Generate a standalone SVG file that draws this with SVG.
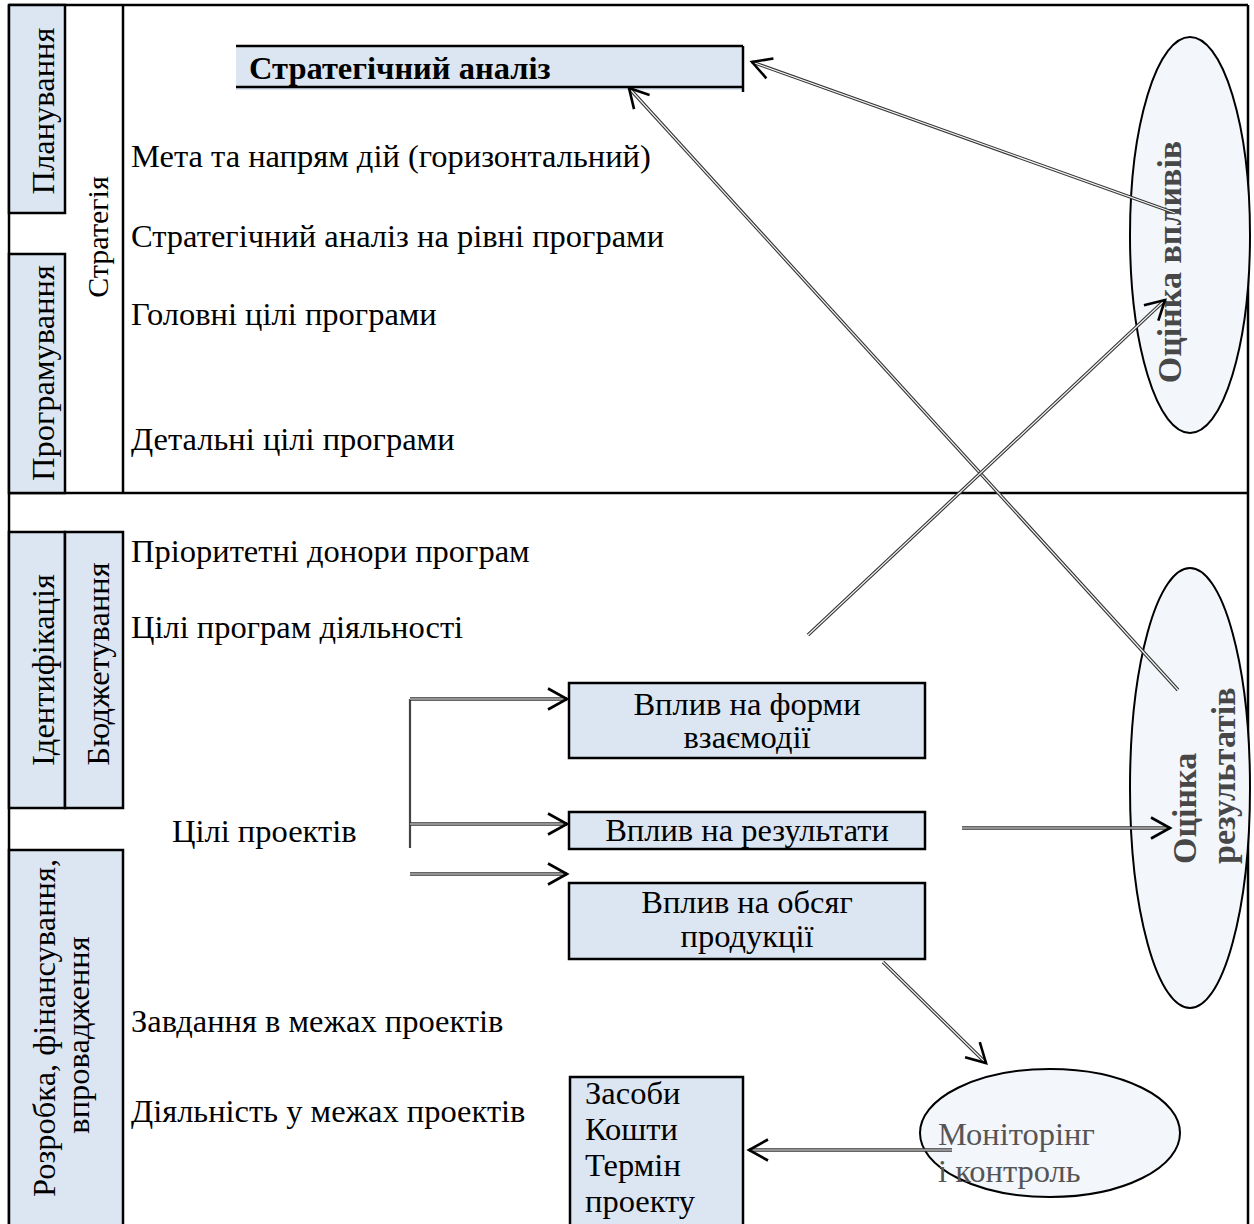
<svg xmlns="http://www.w3.org/2000/svg" width="1254" height="1224" viewBox="0 0 1254 1224">
<style>
  .t { font-family: "Liberation Serif", "Times New Roman", serif; font-size: 32.5px; fill: #000; }
  .b { font-weight: bold; }
  .e { font-size: 34px; font-weight: bold; fill: #474747; }
  .box { fill: #dce6f2; stroke: #000; stroke-width: 2.5; }
  .ell { fill: #f3f6fb; stroke: #000; stroke-width: 2; }
  .frame { stroke: #000; stroke-width: 2.5; fill: none; }
  .lo { fill: none; stroke: #333; stroke-width: 3.4; }
  .li { fill: none; stroke: #f4f4f4; stroke-width: 1.2; }
  .mon { fill: #555; }
</style>
<defs>
  <marker id="ah" markerUnits="userSpaceOnUse" markerWidth="30" markerHeight="30" viewBox="-25 -15 30 30" refX="0" refY="0" orient="auto" overflow="visible">
    <path d="M-19,-10.5 L0,0 L-19,10.5" fill="none" stroke="#000" stroke-width="2.6"/>
  </marker>
</defs>
<rect width="1254" height="1224" fill="#fff"/>

<g id="frame">
  <line class="frame" x1="9" y1="5" x2="1248" y2="5"/>
  <line class="frame" x1="9" y1="5" x2="9" y2="1224"/>
  <line class="frame" x1="1248" y1="5" x2="1248" y2="1224"/>
  <line class="frame" x1="9" y1="493" x2="1248" y2="493"/>
  <line class="frame" x1="123" y1="5" x2="123" y2="493"/>
</g>

<g id="planuvannya">
  <rect class="box" x="9" y="5" width="56" height="208"/>
  <text class="t" transform="translate(54,111) rotate(-90)" text-anchor="middle">Планування</text>
</g>
<g id="prohramuvannya">
  <rect class="box" x="9" y="254" width="56" height="239"/>
  <text class="t" transform="translate(54,373) rotate(-90)" text-anchor="middle">Програмування</text>
</g>
<g id="stratehiya">
  <text class="t" style="font-size:30px" transform="translate(108,237) rotate(-90)" text-anchor="middle">Стратегія</text>
</g>
<g id="identyfikatsiya">
  <rect class="box" x="9" y="532" width="56" height="276"/>
  <text class="t" transform="translate(54,670) rotate(-90)" text-anchor="middle">Ідентифікація</text>
</g>
<g id="byudzhetuvannya">
  <rect class="box" x="65" y="532" width="58" height="276"/>
  <text class="t" transform="translate(109,664) rotate(-90)" text-anchor="middle">Бюджетування</text>
</g>
<g id="rozrobka">
  <rect class="box" x="9" y="850" width="114" height="380"/>
  <text class="t" transform="translate(55,1028) rotate(-90)" text-anchor="middle">Розробка, фінансування,</text>
  <text class="t" transform="translate(89,1035) rotate(-90)" text-anchor="middle">впровадження</text>
</g>

<g id="strat-analiz">
  <rect x="236" y="46" width="507" height="44" fill="#dce6f2"/>
  <line class="frame" x1="236" y1="46" x2="743" y2="46"/>
  <line class="frame" x1="236" y1="87" x2="743" y2="87"/>
  <line class="frame" x1="743" y1="46" x2="743" y2="92"/>
  <text class="t b" x="249" y="79">Стратегічний аналіз</text>
</g>

<g id="labels">
  <text class="t" x="131" y="167">Мета та напрям дій (горизонтальний)</text>
  <text class="t" x="131" y="247">Стратегічний аналіз на рівні програми</text>
  <text class="t" x="131" y="325">Головні цілі програми</text>
  <text class="t" x="131" y="450">Детальні цілі програми</text>
  <text class="t" x="131" y="562">Пріоритетні донори програм</text>
  <text class="t" x="131" y="638">Цілі програм діяльності</text>
  <text class="t" x="172" y="842">Цілі проектів</text>
  <text class="t" x="131" y="1032">Завдання в межах проектів</text>
  <text class="t" x="131" y="1122">Діяльність у межах проектів</text>
</g>

<g id="vplyv-formy">
  <rect class="box" x="569" y="683" width="356" height="75"/>
  <text class="t" x="747" y="715" text-anchor="middle">Вплив на форми</text>
  <text class="t" x="747" y="748" text-anchor="middle">взаємодії</text>
</g>
<g id="vplyv-rezultaty">
  <rect class="box" x="569" y="812" width="356" height="37"/>
  <text class="t" x="747" y="841" text-anchor="middle">Вплив на результати</text>
</g>
<g id="vplyv-obsyah">
  <rect class="box" x="569" y="883" width="356" height="76"/>
  <text class="t" x="747" y="913" text-anchor="middle">Вплив на обсяг</text>
  <text class="t" x="747" y="947" text-anchor="middle">продукції</text>
</g>
<g id="zasoby">
  <rect class="box" x="570" y="1077" width="173" height="160"/>
  <text class="t" x="585" y="1104">Засоби</text>
  <text class="t" x="585" y="1140">Кошти</text>
  <text class="t" x="585" y="1176">Термін</text>
  <text class="t" x="585" y="1212">проекту</text>
</g>

<g id="otsinka-vplyviv">
  <ellipse class="ell" cx="1190" cy="235" rx="60" ry="198"/>
  <text class="t e" transform="translate(1181,262) rotate(-90)" text-anchor="middle">Оцінка впливів</text>
</g>
<g id="otsinka-rezultativ">
  <ellipse class="ell" cx="1190" cy="788" rx="60" ry="220"/>
  <text class="t e" transform="translate(1196,864) rotate(-90)">Оцінка</text>
  <text class="t e" transform="translate(1235,864) rotate(-90)">результатів</text>
</g>
<g id="monitorynh">
  <ellipse class="ell" cx="1050" cy="1133" rx="130" ry="64"/>
  <text class="t mon" x="938" y="1145">Моніторінг</text>
  <text class="t mon" x="938" y="1182">і контроль</text>
</g>

<g id="connectors">
  <line x1="410" y1="699" x2="410" y2="848" stroke="#444" stroke-width="2.2"/>
  <path class="lo" d="M1175,213 L752,62"/><path class="li" d="M1175,213 L752,62" marker-end="url(#ah)"/>
  <path class="lo" d="M1178,690 L629,88"/><path class="li" d="M1178,690 L629,88" marker-end="url(#ah)"/>
  <path class="lo" d="M808,635 L1165,300"/><path class="li" d="M808,635 L1165,300" marker-end="url(#ah)"/>
  <path class="lo" d="M410,699 L567,699"/><path class="li" d="M410,699 L567,699" marker-end="url(#ah)"/>
  <path class="lo" d="M410,824 L567,824"/><path class="li" d="M410,824 L567,824" marker-end="url(#ah)"/>
  <path class="lo" d="M410,874 L567,874"/><path class="li" d="M410,874 L567,874" marker-end="url(#ah)"/>
  <path class="lo" d="M962,828 L1170,828"/><path class="li" d="M962,828 L1170,828" marker-end="url(#ah)"/>
  <path class="lo" d="M883,962 L986,1063"/><path class="li" d="M883,962 L986,1063" marker-end="url(#ah)"/>
  <path class="lo" d="M952,1150 L749,1150"/><path class="li" d="M952,1150 L749,1150" marker-end="url(#ah)"/>
</g>
</svg>
